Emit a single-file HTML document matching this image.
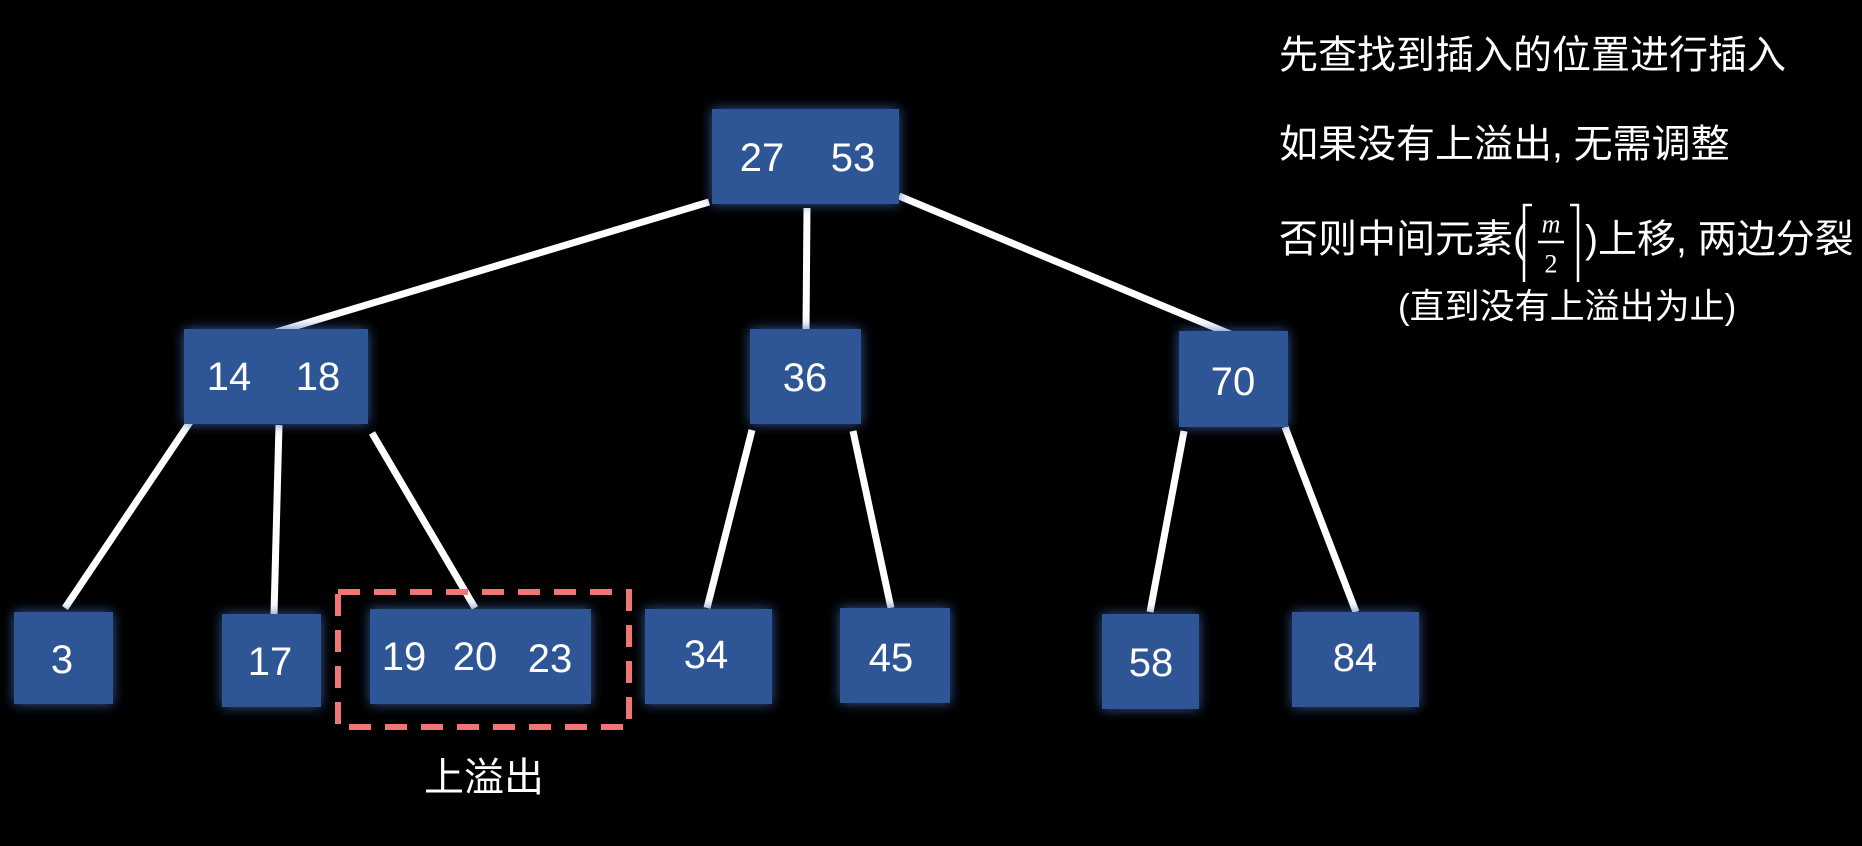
<!DOCTYPE html>
<html><head><meta charset="utf-8"><style>
html,body{margin:0;padding:0;background:#000;}
svg{display:block;}
text{font-family:"Liberation Sans","Noto Sans CJK SC",sans-serif;fill:#fff;}
</style></head><body>
<svg width="1862" height="846" viewBox="0 0 1862 846" xmlns="http://www.w3.org/2000/svg">
<defs>
<filter id="g" x="-30%" y="-30%" width="160%" height="160%">
<feGaussianBlur in="SourceAlpha" stdDeviation="6" result="b"/>
<feFlood flood-color="#3a5fa8" flood-opacity="0.9"/>
<feComposite in2="b" operator="in" result="s"/>
<feMerge><feMergeNode in="s"/><feMergeNode in="SourceGraphic"/></feMerge>
</filter>
</defs>
<g stroke="#fff" stroke-width="7" stroke-linecap="butt">
<line x1="709" y1="202" x2="273" y2="333"/>
<line x1="807" y1="208" x2="806" y2="330"/>
<line x1="899" y1="196" x2="1235" y2="336"/>
<line x1="190" y1="422" x2="65" y2="608"/>
<line x1="279" y1="425" x2="274" y2="614"/>
<line x1="372" y1="433" x2="475" y2="608"/>
<line x1="752" y1="430" x2="707" y2="608"/>
<line x1="853" y1="431" x2="891" y2="608"/>
<line x1="1184" y1="431" x2="1150" y2="612"/>
<line x1="1285" y1="427" x2="1356" y2="612"/>
</g>
<g fill="#2f5496" filter="url(#g)">
<rect x="712" y="109" width="187" height="95"/>
<rect x="184" y="329" width="184" height="95"/>
<rect x="750" y="329" width="111" height="95"/>
<rect x="1179" y="331" width="109" height="96"/>
<rect x="14" y="612" width="99" height="92"/>
<rect x="222" y="614" width="99" height="93"/>
<rect x="370" y="609" width="221" height="95"/>
<rect x="645" y="609" width="127" height="95"/>
<rect x="840" y="608" width="110" height="95"/>
<rect x="1102" y="614" width="97" height="95"/>
<rect x="1292" y="612" width="127" height="95"/>
</g>
<g font-size="40" text-anchor="middle" dominant-baseline="central">
<text x="762" y="158">27</text><text x="853" y="158">53</text>
<text x="229" y="377">14</text><text x="318" y="377">18</text>
<text x="805" y="378">36</text>
<text x="1233" y="382">70</text>
<text x="62" y="660">3</text>
<text x="270" y="662">17</text>
<text x="404" y="657">19</text><text x="475" y="657">20</text><text x="550" y="659">23</text>
<text x="706" y="655">34</text>
<text x="891" y="658">45</text>
<text x="1151" y="663">58</text>
<text x="1355" y="658">84</text>
</g>
<rect x="338" y="592" width="291" height="135" fill="none" stroke="#f07575" stroke-width="6" stroke-dasharray="22,14"/>
<text x="484" y="778" font-size="40" text-anchor="middle" dominant-baseline="central">上溢出</text>
<g font-size="39" dominant-baseline="central">
<text x="1279" y="56">先查找到插入的位置进行插入</text>
<text x="1279" y="145">如果没有上溢出, 无需调整</text>
<text x="1279" y="240">否则中间元素(</text>
<text x="1585" y="240">)上移, 两边分裂</text>
<text x="1398" y="307" font-size="35">(直到没有上溢出为止)</text>
</g>
<g stroke="#fff" stroke-width="2.5" fill="none">
<polyline points="1532,205 1524,205 1524,282"/>
<polyline points="1570,205 1578,205 1578,282"/>
<line x1="1538" y1="242" x2="1564" y2="242"/>
</g>
<text x="1551" y="224" font-size="26" font-style="italic" text-anchor="middle" dominant-baseline="central" style="font-family:'Liberation Serif',serif">m</text>
<text x="1551" y="264" font-size="26" text-anchor="middle" dominant-baseline="central" style="font-family:'Liberation Serif',serif">2</text>
</svg>
</body></html>
